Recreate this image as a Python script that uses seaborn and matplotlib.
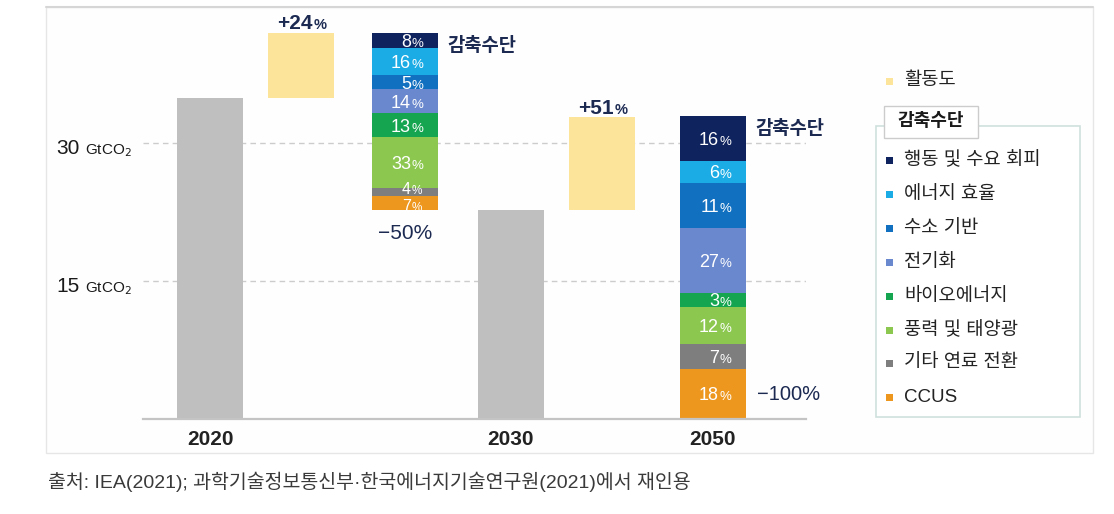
import numpy as np
import pandas as pd
import seaborn as sns
import matplotlib
matplotlib.use("Agg")
import matplotlib.pyplot as plt
from matplotlib.patches import Rectangle
from matplotlib.lines import Line2D

# ---------------- data ----------------
years = ["2020", "2030", "2050"]
emissions = [34.9, 22.7]            # GtCO2 in 2020 and 2030 (2050 = net zero)
activity = [7.1, 10.1]              # increase from activity, GtCO2
activity_labels = ["+24", "+51"]
levers = ["행동 및 수요 회피", "에너지 효율", "수소 기반", "전기화",
          "바이오에너지", "풍력 및 태양광", "기타 연료 전환", "CCUS"]
reduction_2030 = [1.63, 2.93, 1.52, 2.61, 2.61, 5.54, 0.87, 1.52]
share_2030 = [8, 16, 5, 14, 13, 33, 4, 7]
reduction_2050 = [4.89, 2.39, 4.89, 7.07, 1.52, 4.02, 2.72, 5.43]
share_2050 = [16, 6, 11, 27, 3, 12, 7, 18]
total_change = ["−50%", "−100%"]
gridlines = [30, 15]
activity_name = "활동도"
lever_title = "감축수단"
source = "출처: IEA(2021); 과학기술정보통신부·한국에너지기술연구원(2021)에서 재인용"

# ---------------- style ----------------
lever_colors = ["#0F235E", "#1BACE6", "#1170C0", "#6A88CD",
                "#15A550", "#8CC850", "#7E7E7E", "#EE971E"]
GRAY = "#BFBFBF"
YELLOW = "#FDE49B"
NAVY = "#1C2A52"
W = 0.66
slots = [0, 0.91, 1.95, 3.01, 3.92, 5.03]   # layout positions of the six columns
SPLIT = 0.06

sns.set_theme(style="white")
plt.rcParams["font.family"] = ["Liberation Sans", "Noto Sans CJK KR", "DejaVu Sans"]
plt.rcParams["axes.unicode_minus"] = False

FW, FH = 1114, 514
fig = plt.figure(figsize=(FW / 100, FH / 100), dpi=100)
fig.patch.set_facecolor("white")


def fx(px):
    return px / FW


def fy(py):
    return 1 - py / FH


# outer panel frame
fig.add_artist(Rectangle((fx(46), fy(453)), fx(1093) - fx(46), fy(7) - fy(453),
                         transform=fig.transFigure, facecolor="#FEFEFE",
                         edgecolor="#E6E6E6", linewidth=1, zorder=0))
fig.add_artist(Line2D([fx(46), fx(1093)], [fy(7), fy(7)], transform=fig.transFigure,
                      color="#D6D6D6", linewidth=1.5, zorder=0))

ax = fig.add_axes([fx(143), fy(419), fx(806) - fx(143), fy(5) - fy(419)])
ax.set_facecolor("none")

# emission bars (seaborn)
df = pd.DataFrame({"x": [slots[0], slots[3]], "y": emissions})
sns.barplot(data=df, x="x", y="y", native_scale=True,
            width=W / (slots[3] - slots[0]), color=GRAY, saturation=1,
            linewidth=0, errorbar=None, ax=ax, zorder=3)

# activity increases
ax.bar([slots[1], slots[4]], activity, bottom=emissions, width=W,
       color=YELLOW, linewidth=0, zorder=3)
for x, base, h, lab in zip([slots[1], slots[4]], emissions, activity, activity_labels):
    ax.annotate(lab, (x + 0.12, base + h), xytext=(0, 2.5), textcoords="offset points",
                ha="right", va="baseline", fontsize=15, fontweight="bold", color=NAVY)
    ax.annotate("%", (x + 0.12, base + h), xytext=(0.5, 2.5), textcoords="offset points",
                ha="left", va="baseline", fontsize=10.5, fontweight="bold", color=NAVY)


def draw_stack(x, base, heights, shares):
    segs = list(reversed(list(zip(heights, shares, lever_colors))))
    bottom = base
    for i, (h, s, c) in enumerate(segs):
        ax.bar(x, h, bottom=bottom, width=W, color=c, linewidth=0, zorder=3)
        below = segs[i - 1][0] if i > 0 else 99
        above = segs[i + 1][0] if i + 1 < len(segs) else 99
        crowded = h < 1 or (h < 1.6 and (below < 1 or above < 1))
        fs, fp = (11.5, 8.5) if crowded else (13, 9.5)
        dy = -4.6
        if h < 1:
            dy += 3.0          # very thin segment: label sits a bit above
        elif crowded:
            dy -= 0.8
        ax.annotate(str(s), (x + SPLIT, bottom + h / 2), xytext=(0, dy),
                    textcoords="offset points", ha="right", va="baseline",
                    fontsize=fs, color="white", zorder=5)
        ax.annotate("%", (x + SPLIT, bottom + h / 2), xytext=(0.5, dy),
                    textcoords="offset points", ha="left", va="baseline",
                    fontsize=fp, color="white", zorder=5)
        bottom += h
    return bottom


top30 = draw_stack(slots[2], emissions[1], reduction_2030, share_2030)
top50 = draw_stack(slots[5], 0, reduction_2050, share_2050)

# lever title beside stacks
for x, top in [(slots[2], top30), (slots[5], top50)]:
    ax.annotate(lever_title, (x + W / 2, top), xytext=(7, -9.5), textcoords="offset points",
                ha="left", va="center", fontsize=13.5, fontweight="bold", color=NAVY)

# total change labels
ax.annotate(total_change[0], (slots[2], emissions[1]), xytext=(0, -20.5),
            textcoords="offset points", ha="center", va="baseline",
            fontsize=15, color=NAVY)
ax.annotate(total_change[1], (slots[5] + W / 2, reduction_2050[-1] / 2), xytext=(8, 0),
            textcoords="offset points", ha="left", va="center",
            fontsize=14.5, color=NAVY)

# gridlines and y labels
for g in gridlines:
    ax.axhline(g, color="#CCCCCC", linewidth=1, linestyle=(0, (4, 3)), zorder=1)
    ax.annotate(str(g), (fx(80), g), xycoords=("figure fraction", "data"),
                xytext=(0, -8), textcoords="offset points", ha="right", va="baseline",
                fontsize=15, color="#1A1A1A")
    ax.annotate("GtCO$_2$", (fx(85), g), xycoords=("figure fraction", "data"),
                xytext=(0, -8), textcoords="offset points", ha="left", va="baseline",
                fontsize=11, color="#1A1A1A")

ax.set_xlim(-0.67, 5.96)
ax.set_ylim(0, 45)
ax.set_xticks([slots[0], slots[3], slots[5]])
ax.set_xticklabels(years, fontsize=15, fontweight="bold", color="#222222")
ax.set_yticks([])
ax.set_xlabel("")
ax.set_ylabel("")
ax.tick_params(axis="x", length=0, pad=8)
for side in ["top", "left", "right"]:
    ax.spines[side].set_visible(False)
ax.spines["bottom"].set_color("#C4C4C4")
ax.spines["bottom"].set_linewidth(1.6)
ax.spines["bottom"].set_zorder(4)

# ---------------- legend (drawn) ----------------
SQ = 7
fig.add_artist(Rectangle((fx(889 - SQ / 2), fy(81 + SQ / 2)), fx(SQ), SQ / FH,
                         transform=fig.transFigure, facecolor=YELLOW, linewidth=0))
fig.text(fx(904), fy(81), activity_name, ha="left", va="center", fontsize=13.5, color="#222222")

fig.add_artist(Rectangle((fx(876), fy(417)), fx(1080) - fx(876), fy(126) - fy(417),
                         transform=fig.transFigure, facecolor="white",
                         edgecolor="#CFE1DD", linewidth=1.2, zorder=1))
fig.add_artist(Rectangle((fx(884), fy(138)), fx(978) - fx(884), fy(106) - fy(138),
                         transform=fig.transFigure, facecolor="white",
                         edgecolor="#CCCCCC", linewidth=1, zorder=2))
fig.text(fx(931), fy(122), lever_title, ha="center", va="center", fontsize=13,
         fontweight="bold", color="#1A1A1A", zorder=3)

item_y = [160, 194, 228, 262, 296, 330, 363, 397]
for y, name, c in zip(item_y, levers, lever_colors):
    fig.add_artist(Rectangle((fx(889 - SQ / 2), fy(y + SQ / 2)), fx(SQ), SQ / FH,
                             transform=fig.transFigure, facecolor=c, linewidth=0, zorder=3))
    fig.text(fx(904), fy(y), name, ha="left", va="center", fontsize=13.5,
             color="#222222", zorder=3)

# source caption
fig.text(fx(48), fy(482), source, ha="left", va="center", fontsize=14, color="#3A3A3A")

fig.savefig("out.png", dpi=100)
